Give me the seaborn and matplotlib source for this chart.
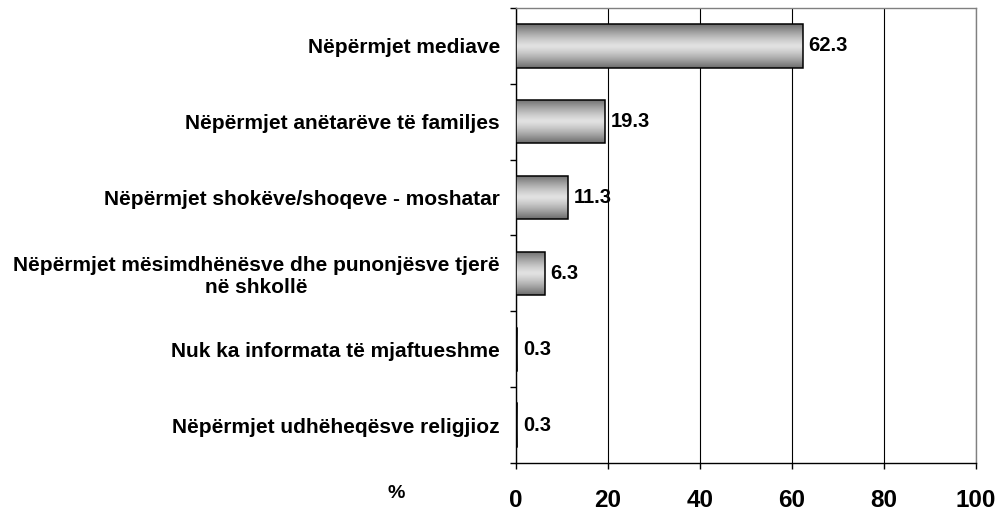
import numpy as np
import matplotlib
matplotlib.use("Agg")
import matplotlib.pyplot as plt
import seaborn as sns

categories = [
    "Nëpërmjet mediave",
    "Nëpërmjet anëtarëve të familjes",
    "Nëpërmjet shokëve/shoqeve - moshatar",
    "Nëpërmjet mësimdhënësve dhe punonjësve tjerë\nnë shkollë",
    "Nuk ka informata të mjaftueshme",
    "Nëpërmjet udhëheqësve religjioz",
]
values = [62.3, 19.3, 11.3, 6.3, 0.3, 0.3]
xticks = [0, 20, 40, 60, 80, 100]

sns.set_style("white")
plt.rcParams["font.family"] = ["Liberation Sans", "DejaVu Sans"]
plt.rcParams["font.weight"] = "bold"
plt.rcParams["text.color"] = "black"
plt.rcParams["xtick.color"] = "black"
plt.rcParams["ytick.color"] = "black"

fig = plt.figure(figsize=(10.01, 5.12), dpi=100)
ax = fig.add_axes([0.5155, 0.0957, 0.4595, 0.8887])

sns.barplot(x=values, y=categories, orient="h", width=0.57, ax=ax,
            color="#a0a0a0", edgecolor="black", linewidth=1.1, zorder=3)

# cylinder-like grey shading inside each bar
grad = 1 - np.abs(np.linspace(-1, 1, 256)) ** 1.3
grad = grad.reshape(-1, 1)
for patch in ax.patches:
    x0, y0 = patch.get_x(), patch.get_y()
    w, h = patch.get_width(), patch.get_height()
    img = ax.imshow(grad, extent=[x0, x0 + w, y0 + h, y0], aspect="auto",
                    cmap="gray", vmin=-0.9, vmax=1.25, zorder=3.5,
                    interpolation="bilinear")
    img.set_clip_path(patch)
    patch.set_facecolor("none")
    patch.set_zorder(4)

ax.bar_label(ax.containers[0], labels=[f"{v:.1f}" for v in values],
             padding=4, fontsize=14.5, fontweight="bold", color="black",
             zorder=5)

ax.set_xlim(0, 100)
ax.set_ylim(5.5, -0.5)
ax.set_xticks(xticks)
ax.set_yticks(np.arange(-0.5, 6), minor=True)
ax.xaxis.grid(True, color="black", linewidth=0.8)
ax.set_axisbelow(True)

ax.tick_params(axis="x", which="major", length=4, width=1, color="black",
               labelcolor="black", labelsize=17.5, pad=14.5, bottom=True)
ax.tick_params(axis="y", which="major", length=0, pad=11.5, labelsize=15,
               labelcolor="black")
ax.tick_params(axis="y", which="minor", length=4, width=1, color="black",
               left=True)
ax.set_yticks(range(len(categories)))
ax.set_yticklabels(categories, multialignment="center", fontweight="bold",
                   color="black")
ax.set_xticklabels([str(t) for t in xticks], fontweight="bold",
                   color="black")

for side in ["left", "bottom"]:
    ax.spines[side].set_color("black")
    ax.spines[side].set_linewidth(1)
for side in ["top", "right"]:
    ax.spines[side].set_color("#808080")
    ax.spines[side].set_linewidth(1)
    ax.spines[side].set_visible(True)

ax.set_xlabel("")
ax.set_ylabel("")
fig.text(396 / 1001, 1 - 494 / 512, "%", ha="center", va="center",
         fontsize=14, fontweight="bold", color="black")

fig.savefig("out.png", dpi=100)
